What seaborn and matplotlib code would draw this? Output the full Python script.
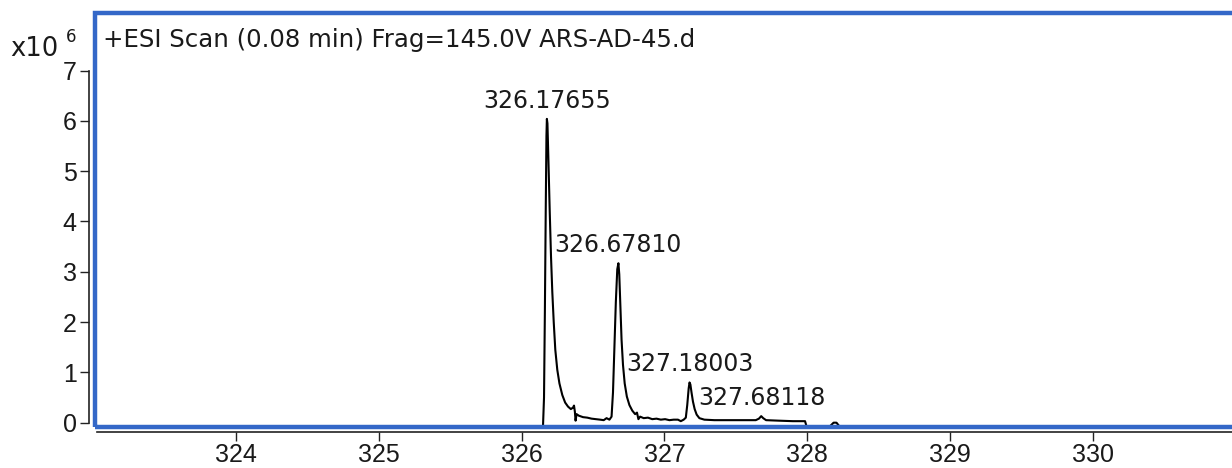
import matplotlib
matplotlib.use("Agg")
import matplotlib.pyplot as plt
import seaborn as sns
import pandas as pd
from matplotlib.patches import Rectangle

# ---------------- data ----------------
trace_mz = [326.150, 326.157, 326.163, 326.169, 326.174, 326.177, 326.181, 326.188,
            326.197, 326.206, 326.215, 326.225, 326.236, 326.250, 326.265, 326.285,
            326.305, 326.325, 326.345, 326.360, 326.367, 326.373, 326.378, 326.385,
            326.400, 326.430, 326.460, 326.490, 326.520, 326.550, 326.575, 326.595,
            326.615, 326.630, 326.640, 326.650, 326.660, 326.670, 326.678, 326.684,
            326.692, 326.700, 326.710, 326.722, 326.737, 326.755, 326.775, 326.795,
            326.808, 326.818, 326.830, 326.855, 326.885, 326.915, 326.945, 326.975,
            327.005, 327.035, 327.065, 327.095, 327.115, 327.135, 327.150, 327.160,
            327.170, 327.176, 327.182, 327.190, 327.200, 327.212, 327.226, 327.245,
            327.280, 327.350, 327.450, 327.550, 327.640, 327.662, 327.678, 327.692,
            327.712, 327.800, 327.900, 327.985, 327.995, 328.160, 328.185, 328.205,
            328.225, 328.300]
trace_int = [-0.06, 0.50, 2.20, 4.20, 5.70, 6.04, 5.95, 5.20,
             4.20, 3.30, 2.60, 2.00, 1.45, 1.05, 0.78, 0.55,
             0.40, 0.32, 0.27, 0.30, 0.34, 0.22, 0.04, 0.17,
             0.14, 0.11, 0.10, 0.08, 0.07, 0.06, 0.05, 0.09,
             0.06, 0.12, 0.60, 1.50, 2.40, 3.05, 3.17, 2.95,
             2.30, 1.65, 1.15, 0.78, 0.52, 0.35, 0.24, 0.17,
             0.20, 0.07, 0.12, 0.09, 0.10, 0.07, 0.08, 0.06,
             0.07, 0.05, 0.06, 0.06, 0.03, 0.06, 0.10, 0.35,
             0.68, 0.80, 0.76, 0.60, 0.42, 0.27, 0.16, 0.09,
             0.06, 0.05, 0.05, 0.05, 0.05, 0.08, 0.13, 0.09,
             0.05, 0.04, 0.03, 0.03, -0.07, -0.07, 0.0, 0.0,
             -0.07, -0.07]

peak_mz = [326.17655, 326.67810, 327.18003, 327.68118]
peak_int = [6.04, 3.17, 0.80, 0.13]

x_ticks = [324, 325, 326, 327, 328, 329, 330]
y_ticks = [0, 1, 2, 3, 4, 5, 6, 7]

title = "+ESI Scan (0.08 min) Frag=145.0V ARS-AD-45.d"

df = pd.DataFrame({"mz": trace_mz, "intensity": trace_int})

# ---------------- style ----------------
sns.set_theme(style="white")
plt.rcParams["font.family"] = ["Liberation Sans", "DejaVu Sans"]
TXT = "#1a1a1a"
BLUE = "#3468C8"

W, H = 1232, 468
fig = plt.figure(figsize=(W / 100, H / 100), dpi=100)
left_px, right_px, top_px, bot_px = 94.5, 1235, 12.5, 426.7
ax = fig.add_axes([left_px / W, (H - bot_px) / H,
                   (right_px - left_px) / W, (bot_px - top_px) / H])

sns.lineplot(data=df, x="mz", y="intensity", ax=ax, color="black",
             linewidth=1.5, sort=False, estimator=None, zorder=3)

ax.set_xlim(323.009, 330.996)
ax.set_ylim(-0.08, 8.155)
ax.set_xlabel("")
ax.set_ylabel("")
ax.set_xticks(x_ticks)
ax.set_yticks(y_ticks)
ax.set_xticklabels([str(v) for v in x_ticks])
ax.set_yticklabels([str(v) for v in y_ticks])

for s in ("top", "right"):
    ax.spines[s].set_visible(False)
ax.spines["left"].set_position(("outward", 3.7))
ax.spines["left"].set_bounds(0, 7)
ax.spines["bottom"].set_position(("outward", 3.6))
ax.spines["bottom"].set_bounds(323.03, 331.0)
for s in ("left", "bottom"):
    ax.spines[s].set_color("#222222")
    ax.spines[s].set_linewidth(1.2)

ax.tick_params(axis="both", which="major", length=6.5, width=1.0, color="#222222",
               labelsize=18, labelcolor=TXT, direction="out")
ax.tick_params(axis="y", pad=2.5, left=True)
ax.tick_params(axis="x", pad=1.5, bottom=True)
ax.grid(False)

# blue frame
ax.add_patch(Rectangle((0, 0), 1, 1, transform=ax.transAxes, fill=False,
                       edgecolor=BLUE, linewidth=3.2, clip_on=False, zorder=6))

# peak labels
for mz, it in zip(peak_mz, peak_int):
    ax.annotate(f"{mz:.5f}", xy=(mz, it), xytext=(0, 8), textcoords="offset points",
                ha="center", va="baseline", fontsize=17, color=TXT,
                family=["DejaVu Sans"], zorder=7)

# title and multiplier
fig.text(103 / W, 1 - 47 / H, title, ha="left", va="baseline", fontsize=17.6,
         color=TXT, family=["DejaVu Sans"])
fig.text(10 / W, 1 - 56 / H, "x10", ha="left", va="baseline", fontsize=18.5,
         color=TXT, family=["DejaVu Sans"])
fig.text(66 / W, 1 - 42 / H, "6", ha="left", va="baseline", fontsize=12,
         color=TXT, family=["DejaVu Sans"])

fig.savefig("out.png", dpi=100)
